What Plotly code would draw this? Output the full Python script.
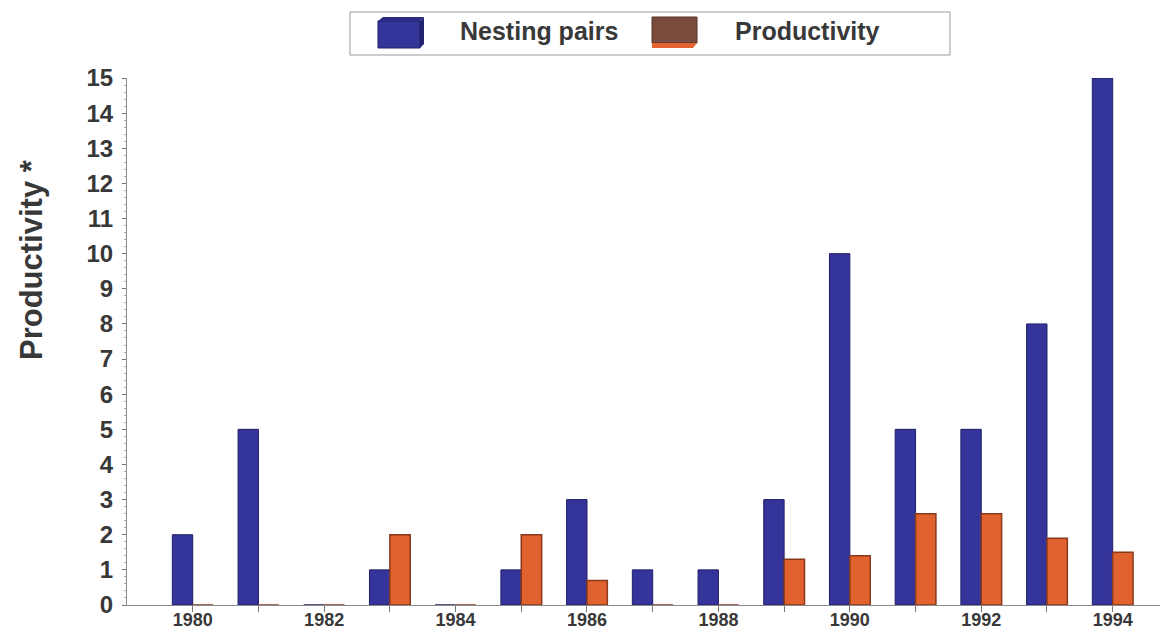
import plotly.graph_objects as go

# Survey data
years = list(range(1980, 1995))
nesting_pairs = [2, 5, 0, 1, 0, 1, 3, 1, 1, 3, 10, 5, 5, 8, 15]
productivity = [0, 0, 0, 2.0, 0, 2.0, 0.7, 0, 0, 1.3, 1.4, 2.6, 2.6, 1.9, 1.5]

year_labels = [str(y) if y % 2 == 0 else "" for y in years]
y_ticks = list(range(0, 16))

BLUE = "#34349a"
BLUE_EDGE = "#1e1e66"
ORANGE = "#e0622e"
ORANGE_EDGE = "#8a3a1c"
BROWN = "#7a4a3c"
TEXT = "#383838"
FONT = "Liberation Sans, Arial, sans-serif"

# plot area in pixels
L, R, T, B = 127, 8, 78, 25
W, H = 1168, 630
PW, PH = W - L - R, H - T - B


def px(x):
    return (x - L) / PW


def py(y):
    return (H - B - y) / PH


fig = go.Figure()
fig.add_bar(x=years, y=nesting_pairs, name="Nesting pairs",
            marker=dict(color=BLUE, line=dict(color=BLUE_EDGE, width=1)))
fig.add_bar(x=years, y=productivity, name="Productivity",
            marker=dict(color=ORANGE, line=dict(color=ORANGE_EDGE, width=1.5)))

# legend frame and swatches
shapes = [
    dict(type="rect", xref="paper", yref="paper",
         x0=px(350), x1=px(950), y0=py(55), y1=py(12),
         line=dict(color="#9a9a9a", width=1), fillcolor="white", layer="above"),
    dict(type="rect", xref="paper", yref="paper",
         x0=px(378), x1=px(420), y0=py(48), y1=py(21),
         line=dict(color=BLUE_EDGE, width=1), fillcolor=BLUE, layer="above"),
    dict(type="path", xref="paper", yref="paper",
         path=f"M {px(378)},{py(21)} L {px(383)},{py(17)} L {px(424)},{py(17)} L {px(420)},{py(21)} Z",
         line=dict(width=0), fillcolor="#2a2a80", layer="above"),
    dict(type="path", xref="paper", yref="paper",
         path=f"M {px(420)},{py(21)} L {px(424)},{py(17)} L {px(424)},{py(44)} L {px(420)},{py(48)} Z",
         line=dict(width=0), fillcolor="#22226e", layer="above"),
    dict(type="rect", xref="paper", yref="paper",
         x0=px(652), x1=px(697), y0=py(43), y1=py(17),
         line=dict(color="#5a3228", width=1), fillcolor=BROWN, layer="above"),
    dict(type="path", xref="paper", yref="paper",
         path=f"M {px(652)},{py(43)} L {px(697)},{py(43)} L {px(693)},{py(48)} L {px(652)},{py(48)} Z",
         line=dict(width=0), fillcolor=ORANGE, layer="above"),
]

annotations = [
    dict(text="Nesting pairs", xref="paper", yref="paper", x=px(458), y=py(31),
         xanchor="left", yanchor="middle", showarrow=False,
         font=dict(family=FONT, size=25, color=TEXT, weight="bold")),
    dict(text="Productivity", xref="paper", yref="paper", x=px(733), y=py(31),
         xanchor="left", yanchor="middle", showarrow=False,
         font=dict(family=FONT, size=25, color=TEXT, weight="bold")),
    dict(text="Productivity *", xref="paper", yref="paper", x=px(31), y=py(260),
         xanchor="center", yanchor="middle", textangle=-90, showarrow=False,
         font=dict(family=FONT, size=31, color=TEXT, weight="bold")),
]

fig.update_layout(
    width=W, height=H,
    margin=dict(l=L, r=R, t=T, b=B, pad=0, autoexpand=False),
    paper_bgcolor="white", plot_bgcolor="white",
    barmode="group", bargap=0.38, bargroupgap=0,
    showlegend=False,
    shapes=shapes, annotations=annotations,
    xaxis=dict(
        range=[1979.0, 1994.72], tickmode="array", tickvals=years, ticktext=year_labels,
        ticks="outside", ticklen=6, tickcolor="#777", showgrid=False, zeroline=False,
        showline=True, linecolor="#8a8a8a", linewidth=1, automargin=False,
        ticklabelstandoff=-8,
        tickfont=dict(family=FONT, size=18, color=TEXT, weight="bold"),
    ),
    yaxis=dict(
        range=[0, 15], tickmode="array", tickvals=y_ticks,
        ticks="outside", ticklen=4, tickcolor="#777", showgrid=False, zeroline=False,
        showline=True, linecolor="#8a8a8a", linewidth=1, ticklabelstandoff=4,
        automargin=False,
        minor=dict(dtick=0.2, ticks="outside", ticklen=2, tickcolor="#aaa"),
        tickfont=dict(family=FONT, size=24, color=TEXT, weight="bold"),
    ),
)

fig.write_html("out.html")
